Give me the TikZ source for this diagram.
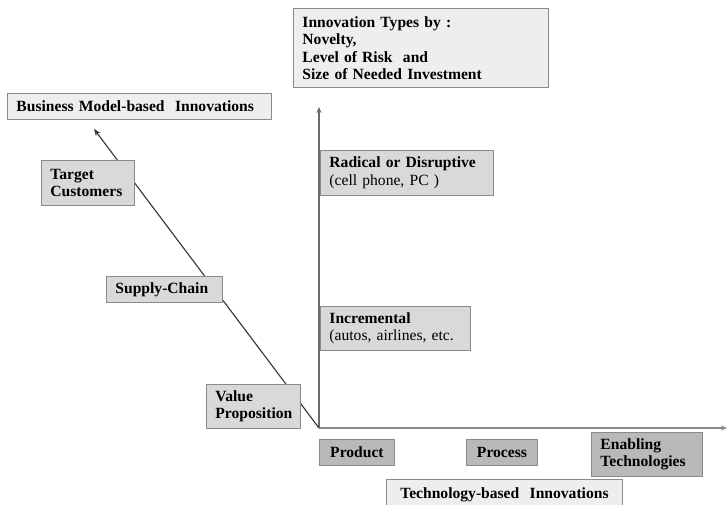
\documentclass[tikz,border=0pt]{standalone}
\usepackage{fontspec}
\setmainfont{Liberation Serif}
\usetikzlibrary{arrows.meta}
\definecolor{frameC}{HTML}{8A8A8A}
\definecolor{paleC}{HTML}{EEEEEE}
\definecolor{midC}{HTML}{D9D9D9}
\definecolor{darkC}{HTML}{B9B9B9}
\definecolor{axisC}{HTML}{6A6A6A}
\begin{document}
\begin{tikzpicture}[x=1pt,y=1pt,
  every node/.style={font=\fontsize{15.6}{17.5}\selectfont\bfseries},
  boxbase/.style={draw=frameC, line width=0.9pt, anchor=north west, inner xsep=9pt, inner ysep=2pt},
  leftbox/.style 2 args={boxbase, minimum width=#1, minimum height=#2, text width=#1-18pt, align=left},
  midbox/.style 2 args={boxbase, minimum width=#1, minimum height=#2, text width=#1-18pt, align=center},
  axis/.style={draw=axisC, line width=1.4pt, -{Stealth[length=6pt,width=5pt]}},
  diag/.style={draw=black!80, line width=1.1pt, -{Stealth[length=7pt,width=5.5pt]}}]
\useasboundingbox (0,0) rectangle (727,504);
\clip (0,0) rectangle (727,504);

% axes and the business-model diagonal
\coordinate (o) at (319,76);
\coordinate (ytip) at (319,397);
\coordinate (xtip) at (727,76);
\coordinate (dtip) at (94,375);
\draw[axis] (o) -- (ytip);
\draw[axis, draw=axisC!80] (o) -- (xtip);
\draw[diag] (o) -- (dtip);

% headings
\node[leftbox={255pt}{79pt}, fill=paleC] (types) at (293,496)
  {Innovation Types by :\\Novelty,\\Level of Risk~ and\\Size of Needed Investment};
\node[leftbox={264pt}{26pt}, fill=paleC] (bm) at (7,411)
  {Business Model-based~ Innovations};
\node[midbox={236pt}{30pt}, fill=paleC] (tech) at (386,25)
  {Technology-based~ Innovations};

% business-model steps on the diagonal
\node[leftbox={93pt}{45pt}, fill=midC] (tc) at (41,344) {Target\\Customers};
\node[leftbox={116pt}{26pt}, fill=midC] (sc) at (106,228) {Supply-Chain};
\node[leftbox={94pt}{44pt}, fill=midC] (vp) at (206,120) {Value\\Proposition};

% novelty levels on the vertical axis
\node[leftbox={173pt}{45pt}, fill=midC] (rad) at (320,354)
  {Radical or Disruptive\\\mdseries (cell phone, PC )};
\node[leftbox={150pt}{44pt}, fill=midC] (inc) at (320,198)
  {Incremental\\\mdseries (autos, airlines, etc.};

% technology kinds under the horizontal axis
\node[midbox={75pt}{26pt}, fill=darkC] (prod) at (319,65) {Product};
\node[midbox={71pt}{26pt}, fill=darkC] (proc) at (466,65) {Process};
\node[leftbox={111pt}{44pt}, fill=darkC] (enab) at (591,72) {Enabling\\Technologies};
\end{tikzpicture}
\end{document}
